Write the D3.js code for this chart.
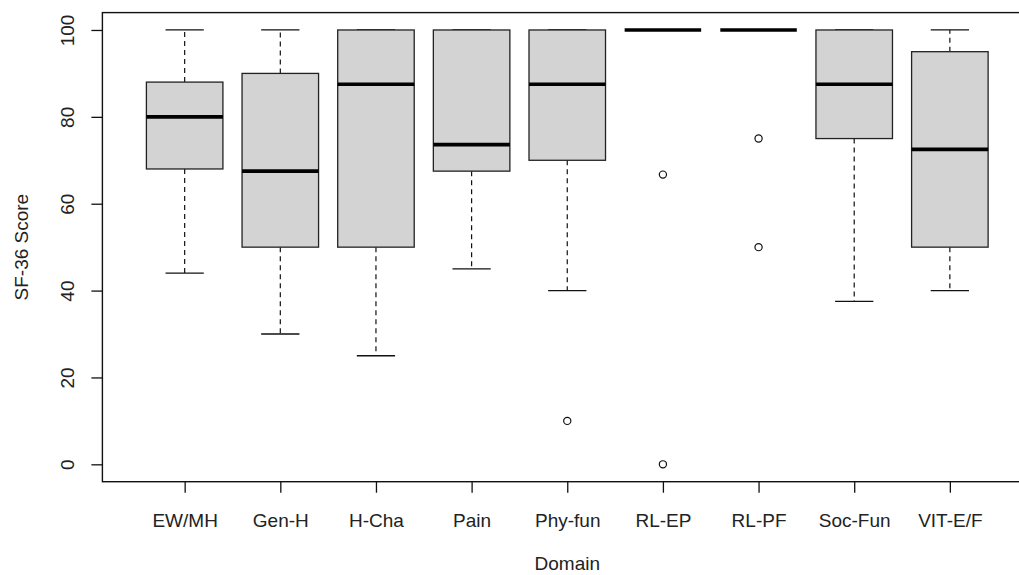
<!DOCTYPE html>
<html><head><meta charset="utf-8">
<script src="https://cdn.jsdelivr.net/npm/d3@7"></script>
<style>
html,body{margin:0;padding:0;background:#fff;}
svg{display:block;font-family:"Liberation Sans",Arial,sans-serif;}
</style></head>
<body>
<svg id="chart" width="1019" height="575"></svg>
<script>
const categories = ["EW/MH","Gen-H","H-Cha","Pain","Phy-fun","RL-EP","RL-PF","Soc-Fun","VIT-E/F"];
const whiskerLow = [44, 30, 25, 45, 40, 100, 100, 37.5, 40];
const q1 =         [68, 50, 50, 67.5, 70, 100, 100, 75, 50];
const medians =    [80, 67.5, 87.5, 73.6, 87.5, 100, 100, 87.5, 72.5];
const q3 =         [88, 90, 100, 100, 100, 100, 100, 100, 95];
const whiskerHigh =[100, 100, 100, 100, 100, 100, 100, 100, 100];
const outliers =   [[], [], [], [], [10], [66.7, 0], [75, 50], [], []];
const yTicks = [0, 20, 40, 60, 80, 100];

const svg = d3.select("#chart");
const pLeft = 102.4, pTop = 12.6, pBottom = 481.7, unit = 95.65;
const x = d3.scaleLinear().domain([0.14, 9.86]).range([pLeft, pLeft + 9.72 * unit]);
const y = d3.scaleLinear().domain([-4, 104]).range([pBottom, pTop]);
const boxW = x(0.8) - x(0), capW = x(0.4) - x(0);

const data = categories.map((c, i) => ({c, i: i + 1, lo: whiskerLow[i], q1: q1[i], med: medians[i], q3: q3[i], hi: whiskerHigh[i], out: outliers[i]}));

const g = svg.append("g");
const box = g.selectAll("g.box").data(data).join("g").attr("class", "box");

// whiskers
box.append("line").attr("x1", d => x(d.i)).attr("x2", d => x(d.i))
  .attr("y1", d => y(d.q3)).attr("y2", d => y(d.hi))
  .attr("stroke", "#111").attr("stroke-width", 1.2).attr("stroke-dasharray", "5,4");
box.append("line").attr("x1", d => x(d.i)).attr("x2", d => x(d.i))
  .attr("y1", d => y(d.q1)).attr("y2", d => y(d.lo))
  .attr("stroke", "#111").attr("stroke-width", 1.2).attr("stroke-dasharray", "5,4");
// staples
box.append("line").attr("x1", d => x(d.i) - capW / 2).attr("x2", d => x(d.i) + capW / 2)
  .attr("y1", d => y(d.hi)).attr("y2", d => y(d.hi))
  .attr("stroke", "#111").attr("stroke-width", 1.3);
box.append("line").attr("x1", d => x(d.i) - capW / 2).attr("x2", d => x(d.i) + capW / 2)
  .attr("y1", d => y(d.lo)).attr("y2", d => y(d.lo))
  .attr("stroke", "#111").attr("stroke-width", 1.3);
// boxes
box.append("rect").attr("x", d => x(d.i) - boxW / 2).attr("width", boxW)
  .attr("y", d => y(d.q3)).attr("height", d => y(d.q1) - y(d.q3))
  .attr("fill", "#d3d3d3").attr("stroke", "#222").attr("stroke-width", 1.3);
// medians
box.append("line").attr("x1", d => x(d.i) - boxW / 2).attr("x2", d => x(d.i) + boxW / 2)
  .attr("y1", d => y(d.med)).attr("y2", d => y(d.med))
  .attr("stroke", "#000").attr("stroke-width", 3.6);
// outliers
box.selectAll("circle").data(d => d.out.map(v => ({i: d.i, v}))).join("circle")
  .attr("cx", d => x(d.i)).attr("cy", d => y(d.v)).attr("r", 3.6)
  .attr("fill", "none").attr("stroke", "#111").attr("stroke-width", 1.2);

// frame
svg.append("rect").attr("x", pLeft).attr("y", pTop).attr("width", x(9.86) - pLeft).attr("height", pBottom - pTop)
  .attr("fill", "none").attr("stroke", "#111").attr("stroke-width", 1.4);

// y axis
const yAxis = svg.append("g").attr("transform", `translate(${pLeft},0)`)
  .call(d3.axisLeft(y).tickValues(yTicks).tickSize(11).tickFormat(d3.format("d")));
yAxis.select(".domain").remove();
yAxis.selectAll(".tick line").attr("stroke", "#111").attr("stroke-width", 1.3);
yAxis.selectAll(".tick text").attr("x", 0).attr("dy", 0).attr("text-anchor", "middle")
  .attr("transform", "translate(-28,0) rotate(-90)")
  .attr("font-size", 19).attr("fill", "#222").attr("font-family", "Liberation Sans, Arial, sans-serif");

// x axis
const xAxis = svg.append("g").attr("transform", `translate(0,${pBottom})`)
  .call(d3.axisBottom(x).tickValues(data.map(d => d.i)).tickSize(11).tickFormat(i => categories[i - 1]));
xAxis.select(".domain").remove();
xAxis.selectAll(".tick line").attr("stroke", "#111").attr("stroke-width", 1.3);
xAxis.selectAll(".tick text").attr("y", 45).attr("dy", 0)
  .attr("font-size", 19).attr("fill", "#222").attr("font-family", "Liberation Sans, Arial, sans-serif");

// axis titles
svg.append("text").attr("x", x(5)).attr("y", 570).attr("text-anchor", "middle")
  .attr("font-size", 19).attr("fill", "#222").text("Domain");
svg.append("text").attr("transform", `translate(28,${(pTop + pBottom) / 2}) rotate(-90)`)
  .attr("text-anchor", "middle").attr("font-size", 19).attr("fill", "#222").text("SF-36 Score");
</script>
</body></html>
